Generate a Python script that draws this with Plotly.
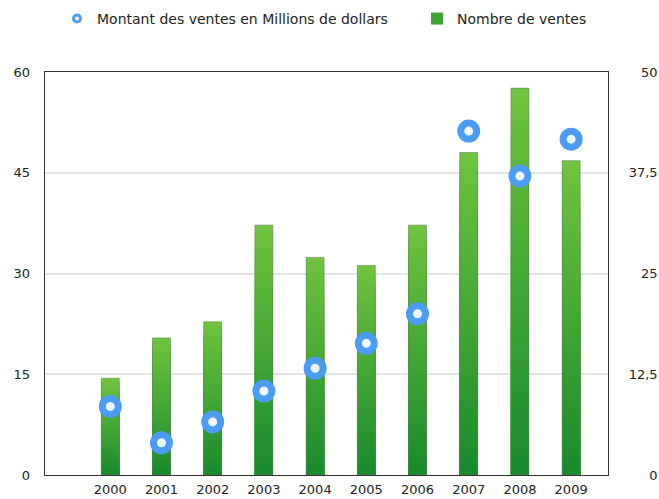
import plotly.graph_objects as go

# Sales figures per year
years = ["2000", "2001", "2002", "2003", "2004", "2005", "2006", "2007", "2008", "2009"]
sales_count = [12, 17, 19, 31, 27, 26, 31, 40, 48, 39]          # Nombre de ventes (right axis)
sales_amount = [10.2, 4.8, 7.9, 12.5, 15.9, 19.6, 24.0, 51.2, 44.5, 50.0]  # Millions de dollars (left axis)

left_ticks = [0, 15, 30, 45, 60]
right_ticks = [0, 12.5, 25, 37.5, 50]
# figure/punctuation spaces keep the right-hand labels flush right
right_labels = ["\u2007\u2007\u20080", "12,5", "\u2007\u200825", "37,5", "\u2007\u200850"]

FONT = "DejaVu Sans"
TXT = "#222222"
x_idx = list(range(len(years)))

fig = go.Figure()

# Vertical green gradient on each bar: overlaid bars of decreasing height,
# lightest (tallest) first, darkest (shortest) last.
top_rgb = (112, 196, 62)
bot_rgb = (24, 138, 44)
N = 40
for k in range(N, 0, -1):
    f = (k - 0.5) / N
    rgb = tuple(round(b + (t - b) * f) for t, b in zip(top_rgb, bot_rgb))
    fig.add_trace(go.Bar(
        x=x_idx, y=[v * k / N for v in sales_count],
        width=0.35, yaxis="y",
        marker=dict(color="rgb(%d,%d,%d)" % rgb, line=dict(width=0)),
        showlegend=False, hoverinfo="skip",
    ))

# Thin outline around the bars
fig.add_trace(go.Bar(
    x=x_idx, y=sales_count, width=0.35, yaxis="y",
    name="Nombre de ventes",
    marker=dict(color="rgba(0,0,0,0)", line=dict(color="rgba(95,125,95,0.55)", width=1)),
    showlegend=False,
))
# Legend entry for the bars
fig.add_trace(go.Bar(
    x=[None], y=[None], yaxis="y", name="Nombre de ventes",
    marker=dict(color="rgb(60,165,50)", line=dict(width=0)),
    legend="legend2",
))

# Sales amount as blue rings
fig.add_trace(go.Scatter(
    x=x_idx, y=sales_amount, yaxis="y2", mode="markers",
    name="Montant des ventes en Millions de dollars",
    marker=dict(symbol="circle", size=16, color="#eef6ff",
                line=dict(color="#4c9cf3", width=7)),
    showlegend=False,
))
fig.add_trace(go.Scatter(
    x=[None], y=[None], yaxis="y2", mode="markers",
    name="Montant des ventes en Millions de dollars",
    marker=dict(symbol="circle", size=7, color="#eef6ff",
                line=dict(color="#4c9cf3", width=3)),
    legend="legend",
))

legend_common = dict(
    orientation="h", xref="container", yref="container",
    xanchor="left", yanchor="middle", y=0.962,
    font=dict(family=FONT, size=14, color=TXT),
    bgcolor="rgba(0,0,0,0)", borderwidth=0,
)

fig.update_layout(
    width=659, height=499,
    margin=dict(l=45, r=51, t=72, b=24),
    paper_bgcolor="white", plot_bgcolor="white",
    barmode="overlay",
    font=dict(family=FONT, size=13, color=TXT),
    showlegend=True,
    legend=dict(x=57 / 659, **legend_common),
    legend2=dict(x=417 / 659, **legend_common),
    xaxis=dict(
        range=[-1.275, 9.72], tickmode="array", tickvals=x_idx, ticktext=years,
        showgrid=False, zeroline=False, ticks="",
        showline=True, linecolor="#333333", linewidth=1.2, mirror=True,
        tickfont=dict(family=FONT, size=13, color=TXT),
        ticklabelstandoff=2, automargin=False,
    ),
    yaxis=dict(
        side="right", range=[0, 50], tickmode="array",
        tickvals=right_ticks, ticktext=right_labels,
        showgrid=True, gridcolor="#e4e4e4", gridwidth=2, zeroline=False,
        showline=True, linecolor="#333333", linewidth=1.2, mirror=True,
        ticks="", ticklabelstandoff=17, automargin=False,
        tickfont=dict(family=FONT, size=13, color=TXT),
    ),
    yaxis2=dict(
        overlaying="y", side="left", range=[0, 60], tickmode="array",
        tickvals=left_ticks, ticktext=[str(v) for v in left_ticks],
        showgrid=False, zeroline=False, showline=False,
        ticks="", ticklabelstandoff=14, automargin=False,
        tickfont=dict(family=FONT, size=13, color=TXT),
    ),
)

fig.write_html("out.html")
